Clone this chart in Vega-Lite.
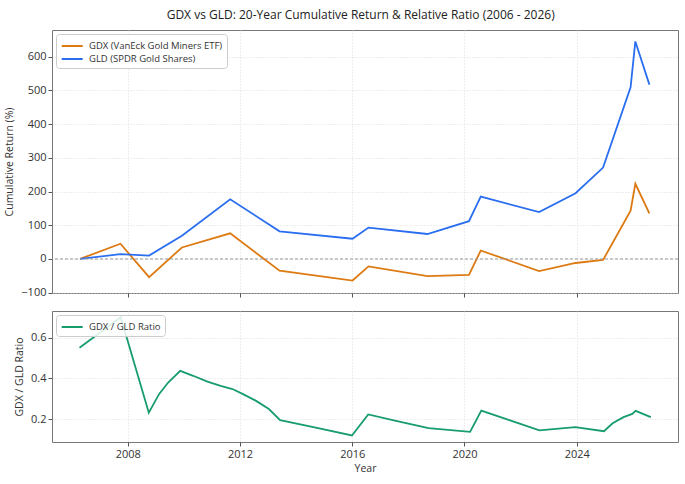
{
  "$schema": "https://vega.github.io/schema/vega-lite/v6.json",
  "background": "white",
  "padding": {"left": 4, "top": 8, "right": 9, "bottom": 8},
  "title": {
    "text": "GDX vs GLD: 20-Year Cumulative Return & Relative Ratio (2006 - 2026)",
    "fontSize": 12,
    "fontWeight": "normal",
    "color": "#222",
    "anchor": "middle",
    "dx": 19,
    "offset": 8
  },
  "datasets": {
    "returns": [
      {"year": 2006.30, "series": "GDX (VanEck Gold Miners ETF)", "value": 0},
      {"year": 2007.74, "series": "GDX (VanEck Gold Miners ETF)", "value": 45},
      {"year": 2008.76, "series": "GDX (VanEck Gold Miners ETF)", "value": -54},
      {"year": 2009.93, "series": "GDX (VanEck Gold Miners ETF)", "value": 34},
      {"year": 2011.65, "series": "GDX (VanEck Gold Miners ETF)", "value": 76},
      {"year": 2013.41, "series": "GDX (VanEck Gold Miners ETF)", "value": -35},
      {"year": 2016.01, "series": "GDX (VanEck Gold Miners ETF)", "value": -64},
      {"year": 2016.58, "series": "GDX (VanEck Gold Miners ETF)", "value": -22},
      {"year": 2018.68, "series": "GDX (VanEck Gold Miners ETF)", "value": -51},
      {"year": 2020.16, "series": "GDX (VanEck Gold Miners ETF)", "value": -47},
      {"year": 2020.58, "series": "GDX (VanEck Gold Miners ETF)", "value": 25},
      {"year": 2022.66, "series": "GDX (VanEck Gold Miners ETF)", "value": -36},
      {"year": 2023.96, "series": "GDX (VanEck Gold Miners ETF)", "value": -12},
      {"year": 2024.94, "series": "GDX (VanEck Gold Miners ETF)", "value": -3},
      {"year": 2025.92, "series": "GDX (VanEck Gold Miners ETF)", "value": 143},
      {"year": 2026.09, "series": "GDX (VanEck Gold Miners ETF)", "value": 223},
      {"year": 2026.59, "series": "GDX (VanEck Gold Miners ETF)", "value": 135},
      {"year": 2006.30, "series": "GLD (SPDR Gold Shares)", "value": 0},
      {"year": 2007.74, "series": "GLD (SPDR Gold Shares)", "value": 14},
      {"year": 2008.76, "series": "GLD (SPDR Gold Shares)", "value": 10},
      {"year": 2009.93, "series": "GLD (SPDR Gold Shares)", "value": 69},
      {"year": 2011.65, "series": "GLD (SPDR Gold Shares)", "value": 177},
      {"year": 2013.41, "series": "GLD (SPDR Gold Shares)", "value": 82},
      {"year": 2016.01, "series": "GLD (SPDR Gold Shares)", "value": 60},
      {"year": 2016.58, "series": "GLD (SPDR Gold Shares)", "value": 93},
      {"year": 2018.68, "series": "GLD (SPDR Gold Shares)", "value": 74},
      {"year": 2020.16, "series": "GLD (SPDR Gold Shares)", "value": 112},
      {"year": 2020.58, "series": "GLD (SPDR Gold Shares)", "value": 185},
      {"year": 2022.66, "series": "GLD (SPDR Gold Shares)", "value": 139},
      {"year": 2023.96, "series": "GLD (SPDR Gold Shares)", "value": 195},
      {"year": 2024.94, "series": "GLD (SPDR Gold Shares)", "value": 271},
      {"year": 2025.92, "series": "GLD (SPDR Gold Shares)", "value": 509},
      {"year": 2026.09, "series": "GLD (SPDR Gold Shares)", "value": 645},
      {"year": 2026.59, "series": "GLD (SPDR Gold Shares)", "value": 517}
    ],
    "ratio": [
      {"year": 2006.28, "series": "GDX / GLD Ratio", "ratio": 0.551},
      {"year": 2007.75, "series": "GDX / GLD Ratio", "ratio": 0.700},
      {"year": 2008.75, "series": "GDX / GLD Ratio", "ratio": 0.232},
      {"year": 2009.12, "series": "GDX / GLD Ratio", "ratio": 0.324},
      {"year": 2009.44, "series": "GDX / GLD Ratio", "ratio": 0.380},
      {"year": 2009.87, "series": "GDX / GLD Ratio", "ratio": 0.437},
      {"year": 2010.33, "series": "GDX / GLD Ratio", "ratio": 0.413},
      {"year": 2010.84, "series": "GDX / GLD Ratio", "ratio": 0.384},
      {"year": 2011.31, "series": "GDX / GLD Ratio", "ratio": 0.364},
      {"year": 2011.73, "series": "GDX / GLD Ratio", "ratio": 0.348},
      {"year": 2012.09, "series": "GDX / GLD Ratio", "ratio": 0.324},
      {"year": 2012.56, "series": "GDX / GLD Ratio", "ratio": 0.291},
      {"year": 2013.03, "series": "GDX / GLD Ratio", "ratio": 0.250},
      {"year": 2013.43, "series": "GDX / GLD Ratio", "ratio": 0.195},
      {"year": 2014.70, "series": "GDX / GLD Ratio", "ratio": 0.158},
      {"year": 2015.99, "series": "GDX / GLD Ratio", "ratio": 0.120},
      {"year": 2016.57, "series": "GDX / GLD Ratio", "ratio": 0.223},
      {"year": 2017.60, "series": "GDX / GLD Ratio", "ratio": 0.190},
      {"year": 2018.72, "series": "GDX / GLD Ratio", "ratio": 0.156},
      {"year": 2020.20, "series": "GDX / GLD Ratio", "ratio": 0.138},
      {"year": 2020.60, "series": "GDX / GLD Ratio", "ratio": 0.242},
      {"year": 2021.60, "series": "GDX / GLD Ratio", "ratio": 0.195},
      {"year": 2022.67, "series": "GDX / GLD Ratio", "ratio": 0.145},
      {"year": 2023.95, "series": "GDX / GLD Ratio", "ratio": 0.161},
      {"year": 2024.97, "series": "GDX / GLD Ratio", "ratio": 0.141},
      {"year": 2025.28, "series": "GDX / GLD Ratio", "ratio": 0.180},
      {"year": 2025.67, "series": "GDX / GLD Ratio", "ratio": 0.210},
      {"year": 2025.98, "series": "GDX / GLD Ratio", "ratio": 0.226},
      {"year": 2026.10, "series": "GDX / GLD Ratio", "ratio": 0.241},
      {"year": 2026.64, "series": "GDX / GLD Ratio", "ratio": 0.210}
    ]
  },
  "spacing": 11,
  "resolve": {"scale": {"color": "independent"}, "legend": {"color": "independent"}},
  "vconcat": [
    {
      "width": 626,
      "height": 263,
      "layer": [
        {
          "data": {"name": "returns"},
          "mark": {"type": "line", "strokeWidth": 1.8},
          "encoding": {
            "x": {
              "field": "year", "type": "quantitative",
              "scale": {"domain": [2005.3, 2027.61], "nice": false, "zero": false},
              "axis": {"values": [2008, 2012, 2016, 2020, 2024], "labels": false, "title": null}
            },
            "y": {
              "field": "value", "type": "quantitative",
              "scale": {"domain": [-101, 679], "nice": false, "zero": false},
              "axis": {"values": [-100, 0, 100, 200, 300, 400, 500, 600], "labelOverlap": false, "title": "Cumulative Return (%)"}
            },
            "color": {
              "field": "series", "type": "nominal",
              "scale": {"domain": ["GDX (VanEck Gold Miners ETF)", "GLD (SPDR Gold Shares)"], "range": ["#dd7a12", "#2a6ef0"]},
              "legend": {"title": null}
            }
          }
        },
        {
          "data": {"values": [{}]},
          "mark": {"type": "rule", "color": "#9a9a9a", "strokeDash": [3, 2], "strokeWidth": 1},
          "encoding": {
            "y": {
              "datum": 0, "type": "quantitative",
              "axis": {"values": [-100, 0, 100, 200, 300, 400, 500, 600], "labelOverlap": false, "title": "Cumulative Return (%)"}
            }
          }
        }
      ]
    },
    {
      "width": 626,
      "height": 131,
      "data": {"name": "ratio"},
      "mark": {"type": "line", "strokeWidth": 1.8},
      "encoding": {
        "x": {
          "field": "year", "type": "quantitative",
          "scale": {"domain": [2005.3, 2027.61], "nice": false, "zero": false},
          "axis": {"values": [2008, 2012, 2016, 2020, 2024], "format": "d", "title": "Year"}
        },
        "y": {
          "field": "ratio", "type": "quantitative",
          "scale": {"domain": [0.088, 0.731], "nice": false, "zero": false},
          "axis": {"values": [0.2, 0.4, 0.6], "format": ".1f", "labelOverlap": false, "title": "GDX / GLD Ratio"}
        },
        "color": {
          "field": "series", "type": "nominal",
          "scale": {"range": ["#179c6c"]},
          "legend": {"title": null}
        }
      }
    }
  ],
  "config": {
    "font": "Open Sans",
    "view": {"stroke": "#777", "strokeWidth": 1},
    "axis": {
      "domain": false,
      "grid": true,
      "gridColor": "#d4d4d4",
      "gridDash": [1, 2],
      "gridWidth": 0.8,
      "tickColor": "#555",
      "tickSize": 4,
      "labelFontSize": 11,
      "labelColor": "#333",
      "labelPadding": 2,
      "labelOverlap": false,
      "titleFontSize": 10.5,
      "titleFontWeight": "normal",
      "titleColor": "#333"
    },
    "axisY": {"titlePadding": 6},
    "axisX": {"titlePadding": 4},
    "legend": {
      "orient": "top-left",
      "offset": 4,
      "padding": 4,
      "strokeColor": "#cccccc",
      "fillColor": "rgba(255,255,255,0.85)",
      "cornerRadius": 3,
      "symbolType": "M-0.9,0L2.1,0",
      "symbolStrokeWidth": 2,
      "symbolSize": 196,
      "labelFontSize": 9.5,
      "labelColor": "#333",
      "labelOffset": 13,
      "rowPadding": 0
    }
  }
}
